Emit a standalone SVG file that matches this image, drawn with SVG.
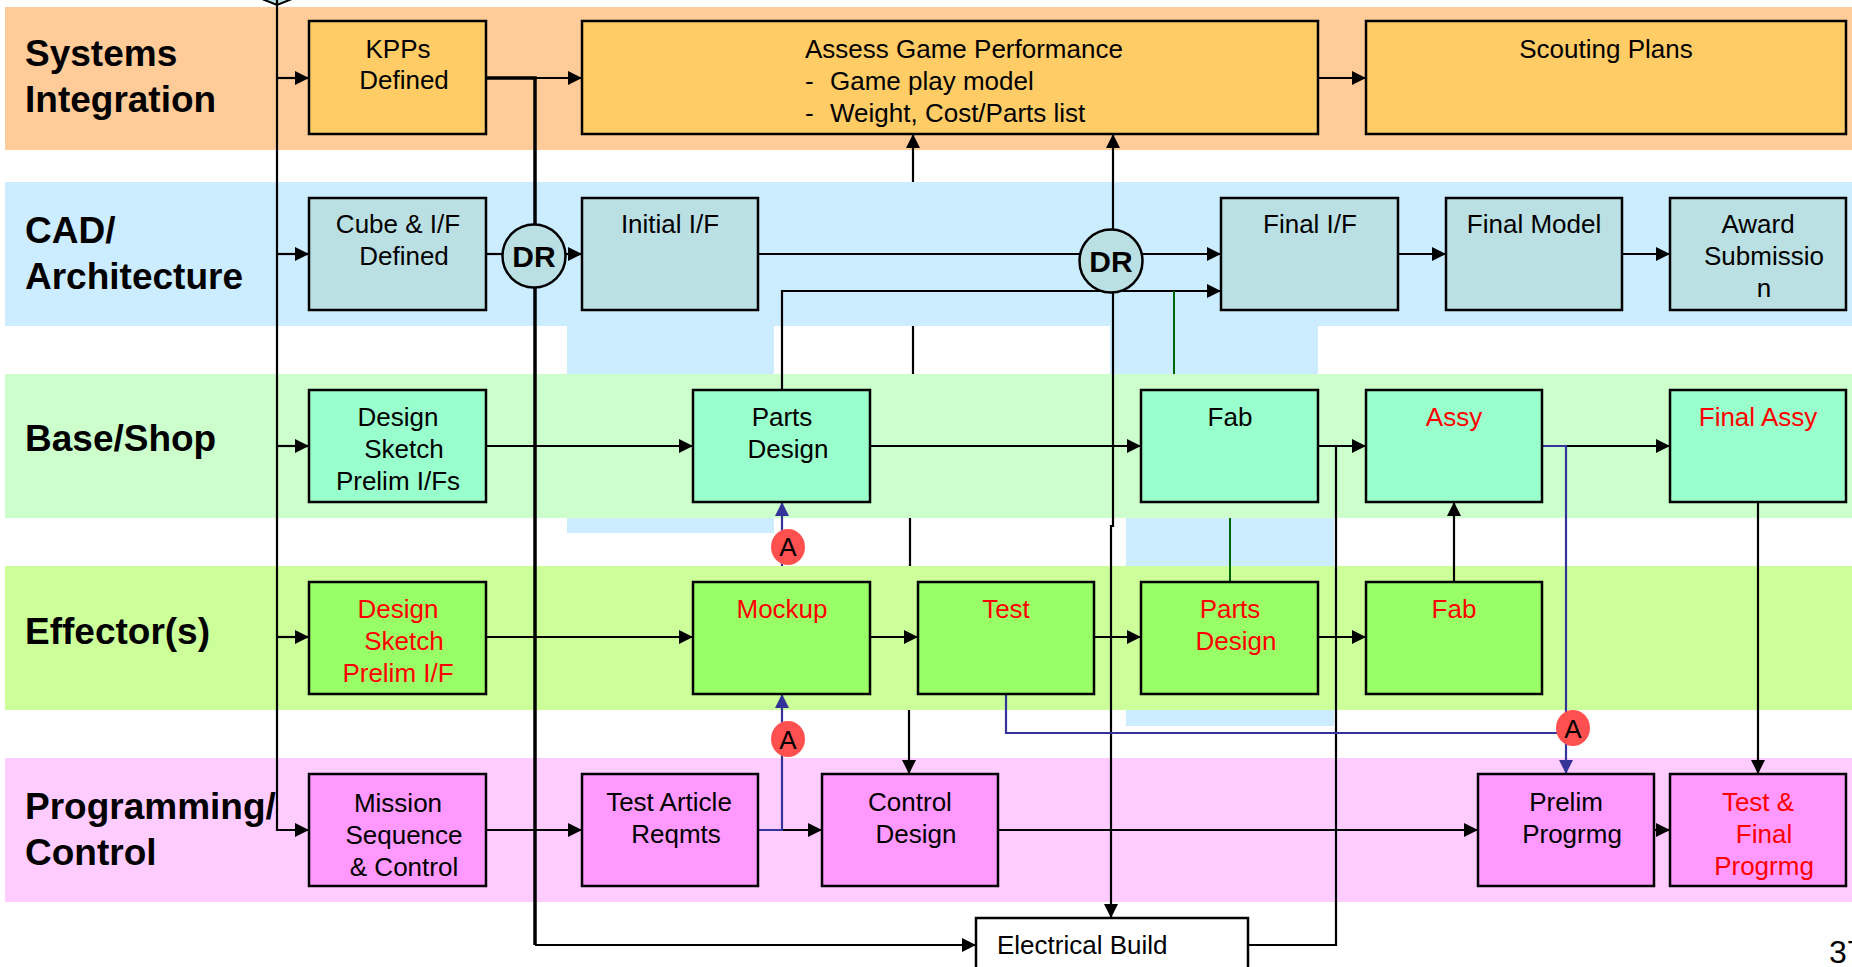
<svg xmlns="http://www.w3.org/2000/svg" width="1852" height="967" viewBox="0 0 1852 967">
<defs>
<marker id="ah" markerUnits="userSpaceOnUse" markerWidth="15" markerHeight="14" refX="14" refY="7" orient="auto">
<path d="M0,0 L14,7 L0,14 z" fill="#000"/>
</marker>
<marker id="ahb" markerUnits="userSpaceOnUse" markerWidth="15" markerHeight="14" refX="14" refY="7" orient="auto">
<path d="M0,0 L14,7 L0,14 z" fill="#333399"/>
</marker>
<style>
.lane{font-family:"Liberation Sans",Arial,sans-serif;font-weight:bold;font-size:37px;fill:#000}
.t{font-family:"Liberation Sans",Arial,sans-serif;font-size:26px;fill:#000;text-anchor:middle}
.tl{font-family:"Liberation Sans",Arial,sans-serif;font-size:26px;fill:#000}
.red{fill:#FF0000}
.box{stroke:#000;stroke-width:2.5}
.si{fill:#FFCC66}
.cad{fill:#BBE0E3}
.bs{fill:#99FFCC}
.ef{fill:#99FF66}
.pc{fill:#FF99FF}
.ln{fill:none;stroke:#000;stroke-width:2.2}
.arr{marker-end:url(#ah)}
.bl{fill:none;stroke:#333399;stroke-width:2.2}
.barr{marker-end:url(#ahb)}
.gr{fill:none;stroke:#006600;stroke-width:2}
.dr{font-family:"Liberation Sans",Arial,sans-serif;font-weight:bold;font-size:30px;fill:#000;text-anchor:middle}
.mk{fill:#FF5050}
</style>
</defs>

<g id="backgrounds">
<rect x="567" y="326" width="207" height="207" fill="#CCECFF"/>
<rect x="1110" y="326" width="208" height="48" fill="#CCECFF"/>
<rect x="1126" y="518" width="208" height="208" fill="#CCECFF"/>
<rect id="lane-si" x="5" y="7" width="1847" height="143" fill="#FFCC99"/>
<rect id="lane-cad" x="5" y="182" width="1847" height="144" fill="#CCECFF"/>
<rect id="lane-bs" x="5" y="374" width="1847" height="144" fill="#CCFFCC"/>
<rect id="lane-ef" x="5" y="566" width="1847" height="144" fill="#CCFF99"/>
<rect id="lane-pc" x="5" y="758" width="1847" height="144" fill="#FFCCFF"/>
</g>

<g id="lane-labels">
<text class="lane" x="25" y="66">Systems</text>
<text class="lane" x="25" y="112">Integration</text>
<text class="lane" x="25" y="243">CAD/</text>
<text class="lane" x="25" y="289">Architecture</text>
<text class="lane" x="25" y="451">Base/Shop</text>
<text class="lane" x="25" y="644">Effector(s)</text>
<text class="lane" x="25" y="819">Programming/</text>
<text class="lane" x="25" y="865">Control</text>
</g>

<g id="connectors">
<polygon points="252,-5 277,5 302,-5 277,-15" fill="#BBE0E3" stroke="#000" stroke-width="2"/>
<path class="ln arr" d="M277,0 V830 H309"/>
<path class="ln arr" d="M277,78 H309"/>
<path class="ln arr" d="M277,254 H309"/>
<path class="ln arr" d="M277,446 H309"/>
<path class="ln arr" d="M277,637 H309"/>

<path class="ln arr" d="M486,78 H582"/>
<path class="ln" style="stroke-width:3.5" d="M486,78 H535 V945"/>
<path class="ln arr" d="M535,945 H976"/>

<path class="ln" d="M486,254 H503"/>
<path class="ln arr" d="M566,254 H582"/>
<path class="ln" d="M758,254 H1080"/>
<path class="ln arr" d="M1142,254 H1221"/>
<path class="ln arr" d="M1113,230 V134"/>
<path class="ln arr" d="M1113,292 V526 H1111 V918"/>
<path class="ln arr" d="M782,390 V291 H1221"/>
<path class="ln arr" d="M1318,78 H1366"/>
<path class="ln arr" d="M1398,254 H1446"/>
<path class="ln arr" d="M1622,254 H1670"/>

<path class="ln arr" d="M913,182 V134"/>
<path class="ln" d="M913,326 V374"/>
<path class="ln" d="M910,518 V566"/>
<path class="ln arr" d="M909,710 V774"/>

<path class="gr" d="M1174,291 V374"/>
<path class="gr" d="M1230,518 V582"/>

<path class="ln arr" d="M486,446 H693"/>
<path class="ln arr" d="M870,446 H1141"/>
<path class="ln arr" d="M1318,446 H1366"/>
<path class="ln arr" d="M1542,446 H1670"/>

<path class="ln arr" d="M486,637 H693"/>
<path class="ln arr" d="M870,637 H918"/>
<path class="ln arr" d="M1094,637 H1141"/>
<path class="ln arr" d="M1318,637 H1366"/>
<path class="ln arr" d="M1454,582 V502"/>

<path class="ln arr" d="M1758,502 V774"/>

<path class="ln arr" d="M486,830 H582"/>
<path class="ln arr" d="M758,830 H822"/>
<path class="ln arr" d="M998,830 H1478"/>
<path class="ln arr" d="M1654,830 H1670"/>

<path class="ln" d="M1248,945 H1336 V446"/>

<path class="bl barr" d="M1542,446 H1566 V774"/>
<path class="bl" d="M1006,694 V733 H1566"/>
<path class="bl barr" d="M758,830 H782 V694"/>
<path class="bl barr" d="M782,566 V502"/>
</g>

<g id="node-kpps">
<rect class="box si" x="309" y="21" width="177" height="113"/>
<text class="t" x="398" y="58">KPPs</text>
<text class="t" x="404" y="89">Defined</text>
</g>
<g id="node-assess">
<rect class="box si" x="582" y="21" width="736" height="113"/>
<text class="tl" x="805" y="58">Assess Game Performance</text>
<text class="tl" y="90"><tspan x="805">-</tspan><tspan x="830">Game play model</tspan></text>
<text class="tl" y="122"><tspan x="805">-</tspan><tspan x="830">Weight, Cost/Parts list</tspan></text>
</g>
<g id="node-scouting">
<rect class="box si" x="1366" y="21" width="480" height="113"/>
<text class="t" x="1606" y="58">Scouting Plans</text>
</g>

<g id="node-cube">
<rect class="box cad" x="309" y="198" width="177" height="112"/>
<text class="t" x="398" y="233">Cube &amp; I/F</text>
<text class="t" x="404" y="265">Defined</text>
</g>
<g id="node-dr1">
<circle class="box cad" cx="534" cy="256" r="31.5"/>
<text class="dr" x="534" y="267">DR</text>
</g>
<g id="node-initial-if">
<rect class="box cad" x="582" y="198" width="176" height="112"/>
<text class="t" x="670" y="233">Initial I/F</text>
</g>
<g id="node-dr2">
<circle class="box cad" cx="1111" cy="261" r="31.5"/>
<text class="dr" x="1111" y="272">DR</text>
</g>
<g id="node-final-if">
<rect class="box cad" x="1221" y="198" width="177" height="112"/>
<text class="t" x="1310" y="233">Final I/F</text>
</g>
<g id="node-final-model">
<rect class="box cad" x="1446" y="198" width="176" height="112"/>
<text class="t" x="1534" y="233">Final Model</text>
</g>
<g id="node-award">
<rect class="box cad" x="1670" y="198" width="176" height="112"/>
<text class="t" x="1758" y="233">Award</text>
<text class="t" x="1764" y="265">Submissio</text>
<text class="t" x="1764" y="297">n</text>
</g>

<g id="node-bs-design-sketch">
<rect class="box bs" x="309" y="390" width="177" height="112"/>
<text class="t" x="398" y="426">Design</text>
<text class="t" x="404" y="458">Sketch</text>
<text class="t" x="398" y="490">Prelim I/Fs</text>
</g>
<g id="node-bs-parts-design">
<rect class="box bs" x="693" y="390" width="177" height="112"/>
<text class="t" x="782" y="426">Parts</text>
<text class="t" x="788" y="458">Design</text>
</g>
<g id="node-bs-fab">
<rect class="box bs" x="1141" y="390" width="177" height="112"/>
<text class="t" x="1230" y="426">Fab</text>
</g>
<g id="node-bs-assy">
<rect class="box bs" x="1366" y="390" width="176" height="112"/>
<text class="t red" x="1454" y="426">Assy</text>
</g>
<g id="node-bs-final-assy">
<rect class="box bs" x="1670" y="390" width="176" height="112"/>
<text class="t red" x="1758" y="426">Final Assy</text>
</g>

<g id="node-ef-design-sketch">
<rect class="box ef" x="309" y="582" width="177" height="112"/>
<text class="t red" x="398" y="618">Design</text>
<text class="t red" x="404" y="650">Sketch</text>
<text class="t red" x="398" y="682">Prelim I/F</text>
</g>
<g id="node-ef-mockup">
<rect class="box ef" x="693" y="582" width="177" height="112"/>
<text class="t red" x="782" y="618">Mockup</text>
</g>
<g id="node-ef-test">
<rect class="box ef" x="918" y="582" width="176" height="112"/>
<text class="t red" x="1006" y="618">Test</text>
</g>
<g id="node-ef-parts-design">
<rect class="box ef" x="1141" y="582" width="177" height="112"/>
<text class="t red" x="1230" y="618">Parts</text>
<text class="t red" x="1236" y="650">Design</text>
</g>
<g id="node-ef-fab">
<rect class="box ef" x="1366" y="582" width="176" height="112"/>
<text class="t red" x="1454" y="618">Fab</text>
</g>

<g id="node-pc-mission">
<rect class="box pc" x="309" y="774" width="177" height="112"/>
<text class="t" x="398" y="812">Mission</text>
<text class="t" x="404" y="844">Sequence</text>
<text class="t" x="404" y="876">&amp; Control</text>
</g>
<g id="node-pc-test-article">
<rect class="box pc" x="582" y="774" width="176" height="112"/>
<text class="t" x="669" y="811">Test Article</text>
<text class="t" x="676" y="843">Reqmts</text>
</g>
<g id="node-pc-control-design">
<rect class="box pc" x="822" y="774" width="176" height="112"/>
<text class="t" x="910" y="811">Control</text>
<text class="t" x="916" y="843">Design</text>
</g>
<g id="node-pc-prelim">
<rect class="box pc" x="1478" y="774" width="176" height="112"/>
<text class="t" x="1566" y="811">Prelim</text>
<text class="t" x="1572" y="843">Progrmg</text>
</g>
<g id="node-pc-test-final">
<rect class="box pc" x="1670" y="774" width="176" height="112"/>
<text class="t red" x="1758" y="811">Test &amp;</text>
<text class="t red" x="1764" y="843">Final</text>
<text class="t red" x="1764" y="875">Progrmg</text>
</g>

<g id="node-electrical-build">
<rect class="box" fill="#FFFFFF" x="976" y="918" width="272" height="60"/>
<text class="tl" x="997" y="954">Electrical Build</text>
</g>

<g id="markers-a">
<ellipse class="mk" cx="788" cy="547" rx="17" ry="18"/>
<text class="t" x="788" y="556">A</text>
<ellipse class="mk" cx="788" cy="739" rx="17" ry="18"/>
<text class="t" x="788" y="749">A</text>
<ellipse class="mk" cx="1573" cy="728" rx="17" ry="18"/>
<text class="t" x="1573" y="738">A</text>
</g>

<text class="tl" style="font-size:32px" x="1829" y="963">37</text>
</svg>
